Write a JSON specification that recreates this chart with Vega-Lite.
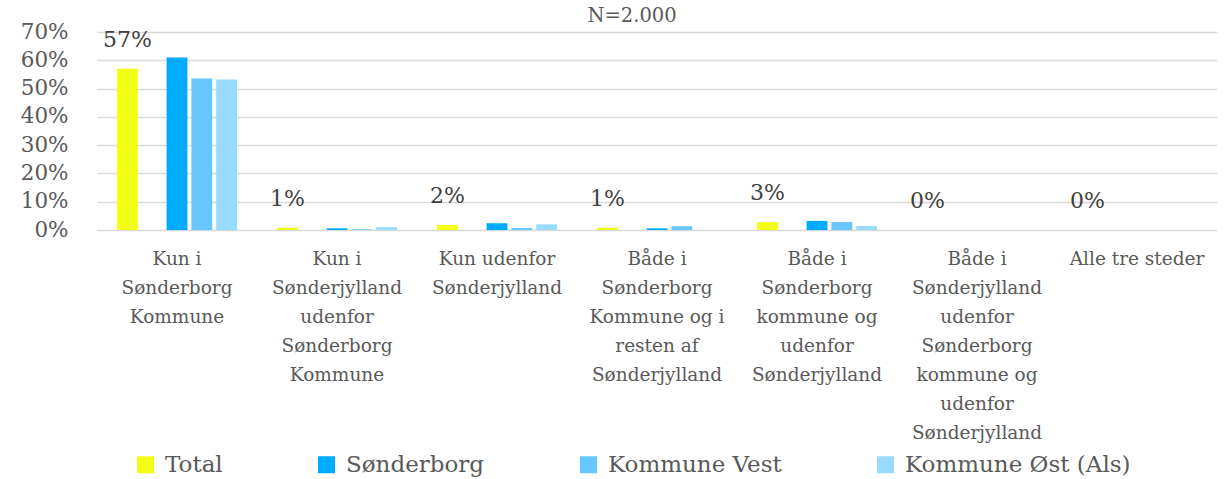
{
  "$schema": "https://vega.github.io/schema/vega-lite/v6.json",
  "width": 1120,
  "height": 198,
  "autosize": "none",
  "padding": {"left": 97, "top": 32, "right": 8, "bottom": 249},
  "background": "white",
  "title": {"text": "N=2.000", "dx": -25, "offset": -5, "fontSize": 19.5, "fontWeight": "normal", "color": "#595959", "font": "DejaVu Serif"},
  "config": {
    "font": "DejaVu Serif",
    "view": {"stroke": null}
  },
  "data": {"values": [
    {"kategori": "Kun i\nSønderborg\nKommune", "gruppe": "Total", "andel": 0.57},
    {"kategori": "Kun i\nSønderborg\nKommune", "gruppe": "Sønderborg", "andel": 0.61},
    {"kategori": "Kun i\nSønderborg\nKommune", "gruppe": "Kommune Vest", "andel": 0.536},
    {"kategori": "Kun i\nSønderborg\nKommune", "gruppe": "Kommune Øst (Als)", "andel": 0.532},
    {"kategori": "Kun i\nSønderjylland\nudenfor\nSønderborg\nKommune", "gruppe": "Total", "andel": 0.008},
    {"kategori": "Kun i\nSønderjylland\nudenfor\nSønderborg\nKommune", "gruppe": "Sønderborg", "andel": 0.006},
    {"kategori": "Kun i\nSønderjylland\nudenfor\nSønderborg\nKommune", "gruppe": "Kommune Vest", "andel": 0.003},
    {"kategori": "Kun i\nSønderjylland\nudenfor\nSønderborg\nKommune", "gruppe": "Kommune Øst (Als)", "andel": 0.01},
    {"kategori": "Kun udenfor\nSønderjylland", "gruppe": "Total", "andel": 0.018},
    {"kategori": "Kun udenfor\nSønderjylland", "gruppe": "Sønderborg", "andel": 0.024},
    {"kategori": "Kun udenfor\nSønderjylland", "gruppe": "Kommune Vest", "andel": 0.007},
    {"kategori": "Kun udenfor\nSønderjylland", "gruppe": "Kommune Øst (Als)", "andel": 0.02},
    {"kategori": "Både i\nSønderborg\nKommune og i\nresten af\nSønderjylland", "gruppe": "Total", "andel": 0.008},
    {"kategori": "Både i\nSønderborg\nKommune og i\nresten af\nSønderjylland", "gruppe": "Sønderborg", "andel": 0.006},
    {"kategori": "Både i\nSønderborg\nKommune og i\nresten af\nSønderjylland", "gruppe": "Kommune Vest", "andel": 0.013},
    {"kategori": "Både i\nSønderborg\nKommune og i\nresten af\nSønderjylland", "gruppe": "Kommune Øst (Als)", "andel": 0.0},
    {"kategori": "Både i\nSønderborg\nkommune og\nudenfor\nSønderjylland", "gruppe": "Total", "andel": 0.028},
    {"kategori": "Både i\nSønderborg\nkommune og\nudenfor\nSønderjylland", "gruppe": "Sønderborg", "andel": 0.032},
    {"kategori": "Både i\nSønderborg\nkommune og\nudenfor\nSønderjylland", "gruppe": "Kommune Vest", "andel": 0.028},
    {"kategori": "Både i\nSønderborg\nkommune og\nudenfor\nSønderjylland", "gruppe": "Kommune Øst (Als)", "andel": 0.014},
    {"kategori": "Både i\nSønderjylland\nudenfor\nSønderborg\nkommune og\nudenfor\nSønderjylland", "gruppe": "Total", "andel": 0.0},
    {"kategori": "Både i\nSønderjylland\nudenfor\nSønderborg\nkommune og\nudenfor\nSønderjylland", "gruppe": "Sønderborg", "andel": 0.0},
    {"kategori": "Både i\nSønderjylland\nudenfor\nSønderborg\nkommune og\nudenfor\nSønderjylland", "gruppe": "Kommune Vest", "andel": 0.0},
    {"kategori": "Både i\nSønderjylland\nudenfor\nSønderborg\nkommune og\nudenfor\nSønderjylland", "gruppe": "Kommune Øst (Als)", "andel": 0.0},
    {"kategori": "Alle tre steder", "gruppe": "Total", "andel": 0.0},
    {"kategori": "Alle tre steder", "gruppe": "Sønderborg", "andel": 0.0},
    {"kategori": "Alle tre steder", "gruppe": "Kommune Vest", "andel": 0.0},
    {"kategori": "Alle tre steder", "gruppe": "Kommune Øst (Als)", "andel": 0.0}
  ]},
  "encoding": {
    "x": {
      "field": "kategori", "type": "nominal", "sort": null,
      "scale": {"paddingInner": 0.25, "paddingOuter": 0.125},
      "axis": {
        "title": null, "labelAngle": 0, "domain": false, "ticks": false,
        "labelExpr": "split(datum.value, '\\n')",
        "labelFont": "DejaVu Serif",
        "labelFontSize": 18.5, "labelColor": "#595959", "labelLineHeight": 29,
        "labelPadding": 19, "labelBaseline": "top", "labelLimit": 300
      }
    },
    "xOffset": {
      "field": "gruppe", "type": "nominal",
      "scale": {"domain": ["Total", "_", "Sønderborg", "Kommune Vest", "Kommune Øst (Als)"], "paddingInner": 0.16, "paddingOuter": 0}
    },
    "y": {
      "field": "andel", "type": "quantitative",
      "scale": {"domain": [0, 0.7], "nice": false},
      "axis": {
        "title": null, "format": ".0%", "values": [0, 0.1, 0.2, 0.3, 0.4, 0.5, 0.6, 0.7],
        "domain": false, "ticks": false, "labelFont": "DejaVu Serif", "labelFontSize": 21.5, "labelColor": "#595959",
        "labelPadding": 29, "gridColor": "#d9d9d9", "gridWidth": 1.5
      }
    }
  },
  "layer": [
    {
      "mark": {"type": "bar"},
      "encoding": {
        "color": {
          "field": "gruppe", "type": "nominal",
          "scale": {"domain": ["Total", "Sønderborg", "Kommune Vest", "Kommune Øst (Als)"], "range": ["#F2FF14", "#00AAFF", "#66C8FF", "#99DBFF"]},
          "legend": {
            "title": null, "orient": "none", "direction": "horizontal",
            "legendX": 37, "legendY": 421,
            "symbolType": "square", "symbolSize": 289, "symbolStrokeWidth": 0,
            "labelFont": "DejaVu Serif",
            "labelFontSize": 23, "labelColor": "#595959", "labelOffset": 8,
            "columnPadding": 92, "labelLimit": 400
          }
        }
      }
    },
    {
      "transform": [{"filter": "datum.gruppe === 'Total'"}],
      "mark": {"type": "text", "baseline": "bottom", "dy": -17, "fontSize": 22, "color": "#404040", "font": "DejaVu Serif"},
      "encoding": {
        "text": {"field": "andel", "type": "quantitative", "format": ".0%"}
      }
    }
  ]
}
